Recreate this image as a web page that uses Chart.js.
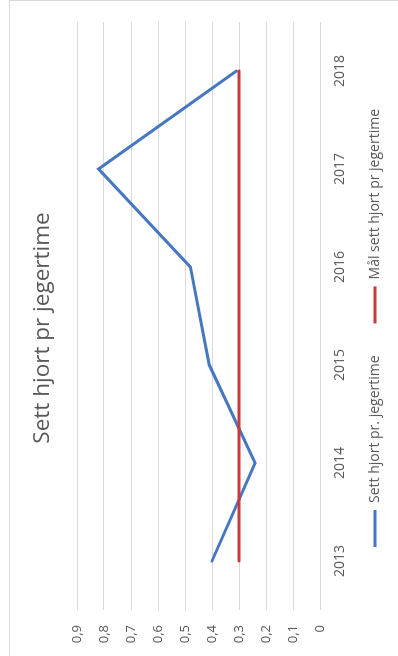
<!DOCTYPE html>
<html lang="no">
<head>
    <meta charset="UTF-8">
    <title>Sett hjort pr jegertime</title>
    <script src="https://cdn.jsdelivr.net/npm/chart.js@4.4.1/dist/chart.umd.min.js"></script>
    <style>
        html, body { margin: 0; padding: 0; background: #fff; overflow: hidden; }
        /* chart is laid out landscape and turned a quarter to the left */
        #wrap {
            position: absolute; left: 0; top: 0;
            width: 656px; height: 398px;
            overflow: hidden;
            transform-origin: 0 0;
            transform: translate(0, 656px) rotate(-90deg);
        }
        #frame {
            position: absolute; left: -10px; top: 9px;
            width: 666px; height: 420px;
            border: 1px solid #d9d9d9; box-sizing: border-box;
        }
        #chart { position: absolute; left: 0; top: 0; }
    </style>
</head>
<body>
<div id="wrap">
    <div id="frame"></div>
    <canvas id="chart" width="656" height="398"></canvas>
</div>
<script>
  const years = ['2013', '2014', '2015', '2016', '2017', '2018'];
  const seenPerHour = [0.40, 0.24, 0.41, 0.48, 0.82, 0.31];
  const goalPerHour = [0.3, 0.3, 0.3, 0.3, 0.3, 0.3];
  const valueLabels = ['0', '0,1', '0,2', '0,3', '0,4', '0,5', '0,6', '0,7', '0,8', '0,9'];

  const grey = '#595959';
  const font = "'Open Sans', sans-serif";

  // the year labels sit inside the legend's top padding, so widen the
  // x axis box after layout or Chart.js clips them away
  const yearLabelRoom = {
    id: 'yearLabelRoom',
    afterLayout(chart) {
      chart.scales.x.bottom = chart.scales.x.top + 40;
    }
  };

  var ctx = document.getElementById('chart');
  var chart = new Chart(ctx, {
    type: 'line',
    data: {
      labels: years,
      datasets: [{
        label: 'Sett hjort pr. jegertime',
        data: seenPerHour,
        borderColor: '#4677c1',
        backgroundColor: '#4677c1',
        borderWidth: 3,
        borderCapStyle: 'round',
        pointRadius: 0,
        order: 1
      }, {
        label: 'Mål sett hjort pr jegertime',
        data: goalPerHour,
        borderColor: '#c63b3e',
        backgroundColor: '#c63b3e',
        borderWidth: 3,
        borderCapStyle: 'round',
        pointRadius: 0,
        order: 0
      }]
    },
    plugins: [yearLabelRoom],
    options: {
      responsive: false,
      animation: false,
      layout: { padding: { left: 0, right: 0, top: 0, bottom: 6 } },
      plugins: {
        title: {
          display: true,
          text: 'Sett hjort pr jegertime',
          color: grey,
          font: { family: font, size: 22.5, weight: 'normal' },
          padding: { top: 29, bottom: 21 }
        },
        legend: {
          position: 'bottom',
          labels: {
            color: grey,
            font: { family: font, size: 14 },
            usePointStyle: true,
            pointStyle: 'line',
            pointStyleWidth: 37,
            padding: 32,
            sort: (a, b) => a.datasetIndex - b.datasetIndex
          }
        },
        tooltip: { enabled: false }
      },
      scales: {
        x: {
          offset: true,
          grid: { display: false, drawTicks: false },
          border: { display: false },
          ticks: { color: grey, font: { family: font, size: 14 }, padding: 12, maxRotation: 0 },
          afterFit: (scale) => { scale.height = 16; }
        },
        y: {
          min: 0,
          max: 0.9,
          grid: { color: '#d9d9d9', lineWidth: 1, drawTicks: false },
          border: { display: false },
          ticks: {
            stepSize: 0.1,
            color: grey,
            font: { family: font, size: 13 },
            padding: 15,
            callback: (value, i) => valueLabels[i]
          },
          afterFit: (scale) => { scale.width = 46; }
        },
        // empty margin on the right so the plot ends short of the frame
        yMargin: {
          position: 'right',
          grid: { display: false, drawTicks: false },
          border: { display: false },
          ticks: { display: false },
          afterFit: (scale) => { scale.width = 22; }
        }
      }
    }
  });
</script>
</body>
</html>
